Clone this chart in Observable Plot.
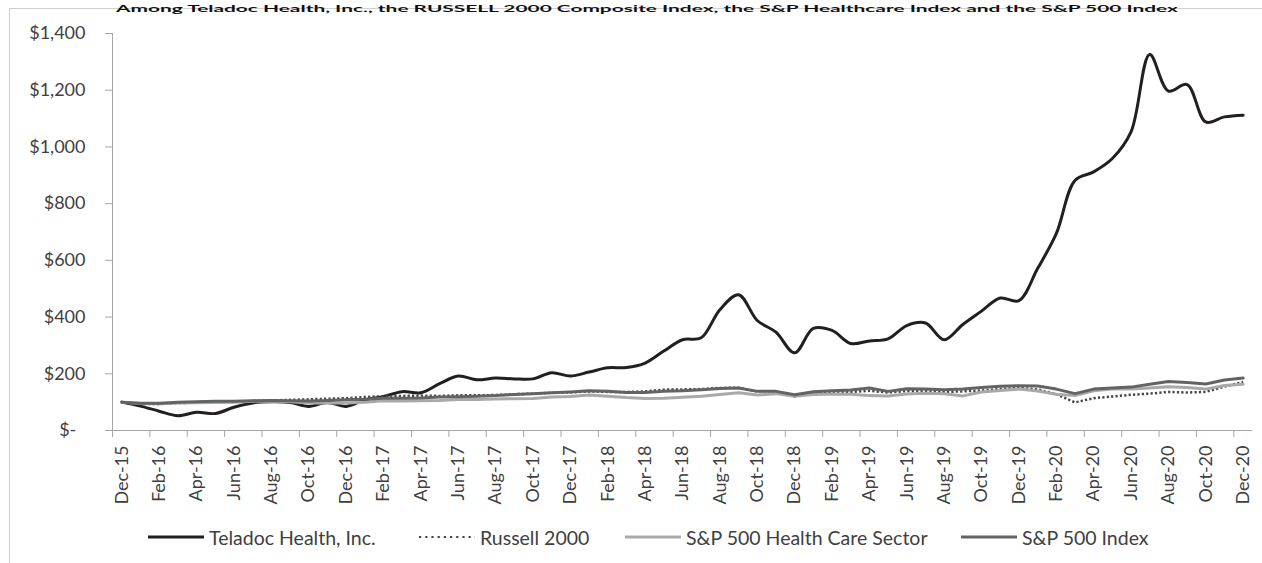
<!DOCTYPE html>
<html><head><meta charset="utf-8">
<script src="https://cdn.jsdelivr.net/npm/d3@7"></script>
<script src="https://cdn.jsdelivr.net/npm/@observablehq/plot@0.6"></script>
<style>
body{margin:0;background:#fff;overflow:hidden;font-family:Lato,"Open Sans",sans-serif;}
#wrap{position:relative;width:1262px;height:563px;overflow:hidden;background:#fff;}
#frame{position:absolute;left:9px;top:8px;width:1300px;height:600px;border-left:1px solid #d0d0d0;border-top:1px solid #d0d0d0;}
#title{position:absolute;left:0;top:0;}
#chart{position:absolute;left:0;top:0;}
#legend{position:absolute;left:0;top:523px;width:1262px;height:28px;}
.item{position:absolute;top:0;height:28px;display:flex;align-items:center;font-size:19.5px;color:#404040;white-space:nowrap;}
.item svg{margin-right:5px;}
</style></head><body>
<div id="wrap"><div id="frame"></div><div id="title"></div><div id="chart"></div><div id="legend"></div></div>
<script>
const titleText = "Among Teladoc Health, Inc., the RUSSELL 2000 Composite Index, the S&P Healthcare Index and the S&P 500 Index";
const months = ["Dec-15","Jan-16","Feb-16","Mar-16","Apr-16","May-16","Jun-16","Jul-16","Aug-16","Sep-16","Oct-16","Nov-16",
"Dec-16","Jan-17","Feb-17","Mar-17","Apr-17","May-17","Jun-17","Jul-17","Aug-17","Sep-17","Oct-17","Nov-17",
"Dec-17","Jan-18","Feb-18","Mar-18","Apr-18","May-18","Jun-18","Jul-18","Aug-18","Sep-18","Oct-18","Nov-18",
"Dec-18","Jan-19","Feb-19","Mar-19","Apr-19","May-19","Jun-19","Jul-19","Aug-19","Sep-19","Oct-19","Nov-19",
"Dec-19","Jan-20","Feb-20","Mar-20","Apr-20","May-20","Jun-20","Jul-20","Aug-20","Sep-20","Oct-20","Nov-20","Dec-20"];
const teladoc = [100,86,68,52,64,60,82,97,101,99,85,99,85,108,120,137,133,165,192,179,185,182,182,204,192,
206,221,222,238,280,320,327,426,479,388,347,274,360,353,307,316,323,370,379,320,374,421,467,458,
571,694,882,912,959,1053,1326,1197,1220,1088,1106,1112];
const russell = [100,94,93,97,98,100,101,104,106,108,110,112,114,118,121,122,123,122,124,124,125,
128,130,133,134,138,136,136,138,144,145,146,150,151,138,138,120,133,137,136,140,134,139,
138,136,138,141,146,150,145,128,99,114,120,126,130,136,134,136,155,171];
const healthcare = [100,95,94,97,98,99,100,103,102,101,97,97,97,100,105,104,105,106,109,109,111,
112,113,118,120,125,121,116,113,114,117,121,127,133,125,130,121,127,129,128,123,122,129,
131,130,122,136,141,146,139,128,123,140,146,146,150,154,152,146,159,163];
const sp500 = [100,96,96,100,101,103,103,105,106,105,104,106,108,110,114,114,115,118,119,121,123,
127,130,133,136,140,138,134,134,138,140,144,148,150,138,138,126,137,140,143,150,138,147,
146,144,146,152,156,158,157,146,130,146,150,153,163,173,169,164,178,185];
const yTicks = [0,200,400,600,800,1000,1200,1400];

const series = [
  {name:"Teladoc Health, Inc.", values:teladoc, stroke:"#231f20", width:3, dash:null, curve:"catmull-rom", legendDash:null},
  {name:"Russell 2000", values:russell, stroke:"#444444", width:2.5, dash:"2.2 2.2", curve:"linear", legendDash:"2.2 4"},
  {name:"S&P 500 Health Care Sector", values:healthcare, stroke:"#a9a9a9", width:3, dash:null, curve:"linear", legendDash:null},
  {name:"S&P 500 Index", values:sp500, stroke:"#636363", width:3, dash:null, curve:"linear", legendDash:null}
];

const idx = months.map((m,i)=>i);
const labelIdx = idx.filter(i => i % 2 === 0);
const tickBounds = labelIdx.map(i => i - 0.5);

const lineMarks = series.map(s => Plot.line(idx.map(i => ({i, v: s.values[i]})), {
  x:"i", y:"v", stroke:s.stroke, strokeWidth:s.width, strokeDasharray:s.dash || undefined,
  curve:s.curve, strokeLinejoin:"round", strokeLinecap: s.dash ? "butt" : "round"
}));

const axisColor = "#a6a6a6";
const chart = Plot.plot({
  width:1262, height:510,
  marginLeft:112, marginRight:10, marginTop:33, marginBottom:80,
  style:{fontFamily:"Lato, 'Open Sans', sans-serif", color:"#404040", background:"transparent"},
  x:{type:"linear", domain:[-0.5, 60.5]},
  y:{domain:[0,1400]},
  marks:[
    Plot.axisY({ticks:yTicks, tickSize:7, tickPadding:20, stroke:axisColor, fill:"#404040", fontSize:18,
      tickFormat:d => d === 0 ? "$-\u00a0\u00a0" : "$" + d3.format(",")(d), label:null}),
    Plot.axisX({ticks:tickBounds, tickSize:7, stroke:axisColor, tickFormat:() => "", label:null}),
    Plot.axisX({ticks:labelIdx, tickSize:0, tickPadding:15, tickRotate:-90, fill:"#404040", fontSize:18,
      tickFormat:i => months[i], label:null}),
    Plot.ruleY([0], {stroke:axisColor, strokeWidth:1}),
    Plot.ruleX([-0.5], {stroke:axisColor, strokeWidth:1}),
    ...lineMarks
  ]
});
document.getElementById("chart").appendChild(chart);

// title (kept fully visible in the thin band at the top)
const tsvg = d3.select("#title").append("svg").attr("width",1262).attr("height",12);
tsvg.append("text").attr("x",116).attr("y",7.5).attr("font-family","Lato, 'Open Sans', sans-serif")
  .attr("font-weight","bold").attr("font-size",9.5).attr("fill","#111")
  .attr("textLength",1062).attr("lengthAdjust","spacingAndGlyphs").text(titleText);

// legend
const legendLeft = [148, 419, 625, 961];
const legend = d3.select("#legend");
series.forEach((s,k) => {
  const it = legend.append("div").attr("class","item").style("left", legendLeft[k] + "px");
  const sv = it.append("svg").attr("width",56).attr("height",10);
  sv.append("line").attr("x1",0).attr("x2",56).attr("y1",5).attr("y2",5)
    .attr("stroke",s.stroke).attr("stroke-width", s.legendDash ? 2 : 3)
    .attr("stroke-dasharray", s.legendDash);
  it.append("span").text(s.name);
});
</script>
</body></html>
